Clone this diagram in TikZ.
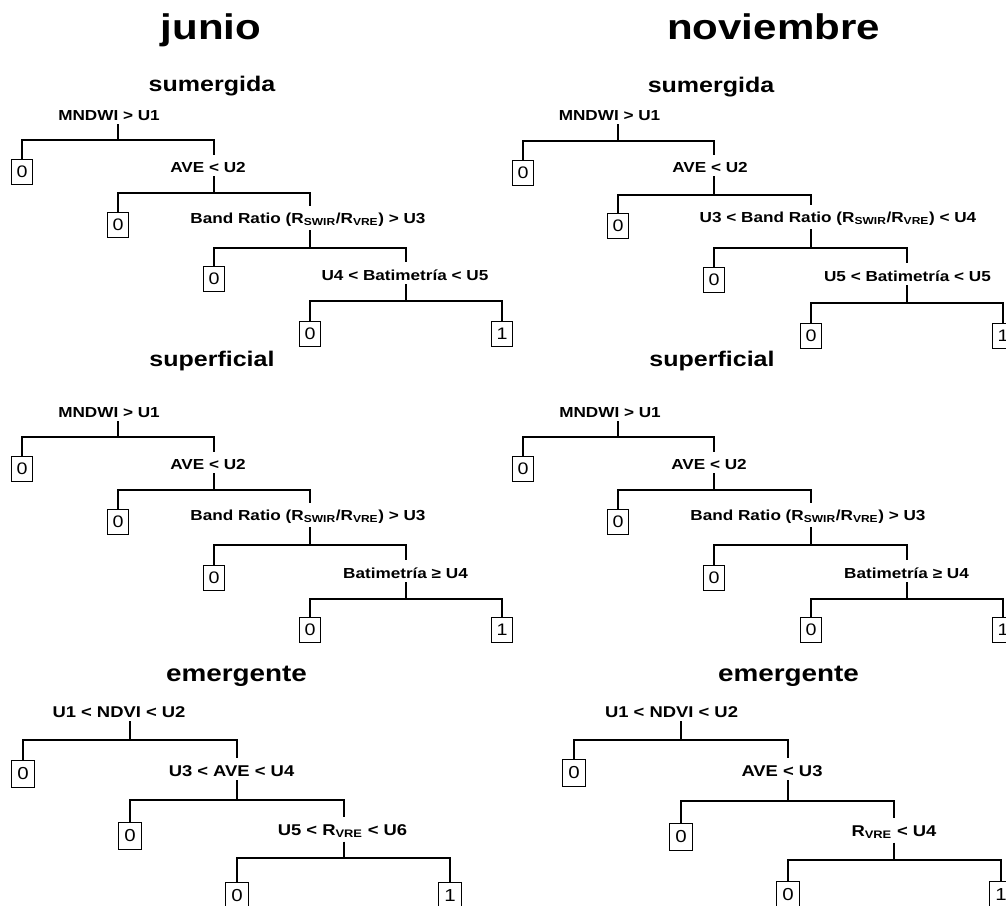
\documentclass[tikz,border=0pt]{standalone}
\usepackage{fontspec}
\setmainfont{Liberation Sans}[FakeStretch=1.18]
\newcommand\mystem[2]{\draw[edge,shorten <=3pt] (#1.south -| #2) -- (#2);}
\newcommand\myfork[4]{\draw[edge,shorten >=5pt] (#1.north) |- (#2) -| (#3.north -| #4);}
\newcommand\mylast[3]{\draw[edge] (#1.north) |- (#2) -| (#3.north);}
\begin{document}
\begin{tikzpicture}[x=0.75pt,y=-0.75pt,
  lab/.style={font=\bfseries\fontsize{10.9}{12}\selectfont, inner sep=0pt, anchor=base},
  elab/.style={lab, font=\bfseries\fontsize{11.7}{13}\selectfont},
  sub/.style={font=\bfseries\fontsize{15.9}{18}\selectfont, inner sep=0pt, anchor=base},
  esub/.style={sub, font=\bfseries\fontsize{17.7}{20}\selectfont},
  ttl/.style={font=\bfseries\fontsize{26.7}{30}\selectfont, inner sep=0pt, anchor=base},
  leaf/.style={draw, line width=0.75pt, minimum width=16pt, minimum height=18.5pt, inner sep=0pt, anchor=north, font=\fontsize{12.5}{13}\selectfont},
  eleaf/.style={leaf, minimum width=17pt, minimum height=20pt, font=\fontsize{13}{14}\selectfont},
  edge/.style={line width=1.5pt}]
\useasboundingbox (0,0) rectangle (1006,906);
\fill[white] (0,0) rectangle (1006,906);

% titles
\node[ttl] (tj) at (211,40) {junio};
\node[ttl] (tn) at (773.5,40) {noviembre};

% ===== junio sumergida =====
\node[sub] (jsT) at (212,92) {sumergida};
\node[lab] (js1) at (109,120) {MNDWI > U1};
\coordinate (js1j) at (118,140);
\node[leaf] (js1l) at (22,159) {0};
\node[lab] (js2) at (208,172) {AVE < U2};
\coordinate (js2j) at (214,193);
\node[leaf] (js2l) at (118,212) {0};
\node[lab] (js3) at (308,223) {Band Ratio (R\textsubscript{SWIR}/R\textsubscript{VRE}) > U3};
\coordinate (js3j) at (310,248);
\node[leaf] (js3l) at (214,266) {0};
\node[lab] (js4) at (405,280) {U4 < Batimetría < U5};
\coordinate (js4j) at (406,301);
\node[leaf] (js4a) at (310,321) {0};
\node[leaf] (js4b) at (502,321) {1};
\mystem{js1}{js1j}\myfork{js1l}{js1j}{js2}{js2j}
\mystem{js2}{js2j}\myfork{js2l}{js2j}{js3}{js3j}
\mystem{js3}{js3j}\myfork{js3l}{js3j}{js4}{js4j}
\mystem{js4}{js4j}\mylast{js4a}{js4j}{js4b}

% ===== junio superficial =====
\node[sub] (jpT) at (212,366) {superficial};
\node[lab] (jp1) at (109,417) {MNDWI > U1};
\coordinate (jp1j) at (118,437);
\node[leaf] (jp1l) at (22,456) {0};
\node[lab] (jp2) at (208,469) {AVE < U2};
\coordinate (jp2j) at (214,490);
\node[leaf] (jp2l) at (118,509) {0};
\node[lab] (jp3) at (308,520) {Band Ratio (R\textsubscript{SWIR}/R\textsubscript{VRE}) > U3};
\coordinate (jp3j) at (310,545);
\node[leaf] (jp3l) at (214,565) {0};
\node[lab] (jp4) at (405.5,578) {Batimetría ≥ U4};
\coordinate (jp4j) at (406,599);
\node[leaf] (jp4a) at (310,617) {0};
\node[leaf] (jp4b) at (502,617) {1};
\mystem{jp1}{jp1j}\myfork{jp1l}{jp1j}{jp2}{jp2j}
\mystem{jp2}{jp2j}\myfork{jp2l}{jp2j}{jp3}{jp3j}
\mystem{jp3}{jp3j}\myfork{jp3l}{jp3j}{jp4}{jp4j}
\mystem{jp4}{jp4j}\mylast{jp4a}{jp4j}{jp4b}

% ===== junio emergente =====
\node[esub] (jeT) at (236.5,681) {emergente};
\node[elab] (je1) at (119,717) {U1 < NDVI < U2};
\coordinate (je1j) at (130,740);
\node[eleaf] (je1l) at (23,760) {0};
\node[elab] (je2) at (231.5,776) {U3 < AVE < U4};
\coordinate (je2j) at (237,800);
\node[eleaf] (je2l) at (130,822) {0};
\node[elab] (je3) at (342.5,835) {U5 < R\textsubscript{VRE} < U6};
\coordinate (je3j) at (344,858);
\node[eleaf] (je3a) at (237,882) {0};
\node[eleaf] (je3b) at (450,882) {1};
\mystem{je1}{je1j}\myfork{je1l}{je1j}{je2}{je2j}
\mystem{je2}{je2j}\myfork{je2l}{je2j}{je3}{je3j}
\mystem{je3}{je3j}\mylast{je3a}{je3j}{je3b}

% ===== noviembre sumergida =====
\node[sub] (nsT) at (711,93) {sumergida};
\node[lab] (ns1) at (609.5,120) {MNDWI > U1};
\coordinate (ns1j) at (618,141);
\node[leaf] (ns1l) at (523,160) {0};
\node[lab] (ns2) at (710,172) {AVE < U2};
\coordinate (ns2j) at (714,195);
\node[leaf] (ns2l) at (618,213) {0};
\node[lab] (ns3) at (838,222) {U3 < Band Ratio (R\textsubscript{SWIR}/R\textsubscript{VRE}) < U4};
\coordinate (ns3j) at (811,248);
\node[leaf] (ns3l) at (714,267) {0};
\node[lab] (ns4) at (907.5,281) {U5 < Batimetría < U5};
\coordinate (ns4j) at (907,303);
\node[leaf] (ns4a) at (811,323) {0};
\node[leaf] (ns4b) at (1003,323) {1};
\mystem{ns1}{ns1j}\myfork{ns1l}{ns1j}{ns2}{ns2j}
\mystem{ns2}{ns2j}\myfork{ns2l}{ns2j}{ns3}{ns3j}
\mystem{ns3}{ns3j}\myfork{ns3l}{ns3j}{ns4}{ns4j}
\mystem{ns4}{ns4j}\mylast{ns4a}{ns4j}{ns4b}

% ===== noviembre superficial =====
\node[sub] (npT) at (712,366) {superficial};
\node[lab] (np1) at (610,417) {MNDWI > U1};
\coordinate (np1j) at (618,437);
\node[leaf] (np1l) at (523,456) {0};
\node[lab] (np2) at (709,469) {AVE < U2};
\coordinate (np2j) at (714,490);
\node[leaf] (np2l) at (618,509) {0};
\node[lab] (np3) at (808,520) {Band Ratio (R\textsubscript{SWIR}/R\textsubscript{VRE}) > U3};
\coordinate (np3j) at (811,545);
\node[leaf] (np3l) at (714,565) {0};
\node[lab] (np4) at (906.5,578) {Batimetría ≥ U4};
\coordinate (np4j) at (907,599);
\node[leaf] (np4a) at (811,617) {0};
\node[leaf] (np4b) at (1003,617) {1};
\mystem{np1}{np1j}\myfork{np1l}{np1j}{np2}{np2j}
\mystem{np2}{np2j}\myfork{np2l}{np2j}{np3}{np3j}
\mystem{np3}{np3j}\myfork{np3l}{np3j}{np4}{np4j}
\mystem{np4}{np4j}\mylast{np4a}{np4j}{np4b}

% ===== noviembre emergente =====
\node[esub] (neT) at (788.5,681) {emergente};
\node[elab] (ne1) at (671.5,717) {U1 < NDVI < U2};
\coordinate (ne1j) at (681,740);
\node[eleaf] (ne1l) at (574,759) {0};
\node[elab] (ne2) at (782,776) {AVE < U3};
\coordinate (ne2j) at (788,801);
\node[eleaf] (ne2l) at (681,823) {0};
\node[elab] (ne3) at (894,836) {R\textsubscript{VRE} < U4};
\coordinate (ne3j) at (894,860);
\node[eleaf] (ne3a) at (788,881) {0};
\node[eleaf] (ne3b) at (1001,881) {1};
\mystem{ne1}{ne1j}\myfork{ne1l}{ne1j}{ne2}{ne2j}
\mystem{ne2}{ne2j}\myfork{ne2l}{ne2j}{ne3}{ne3j}
\mystem{ne3}{ne3j}\mylast{ne3a}{ne3j}{ne3b}
\end{tikzpicture}
\end{document}
